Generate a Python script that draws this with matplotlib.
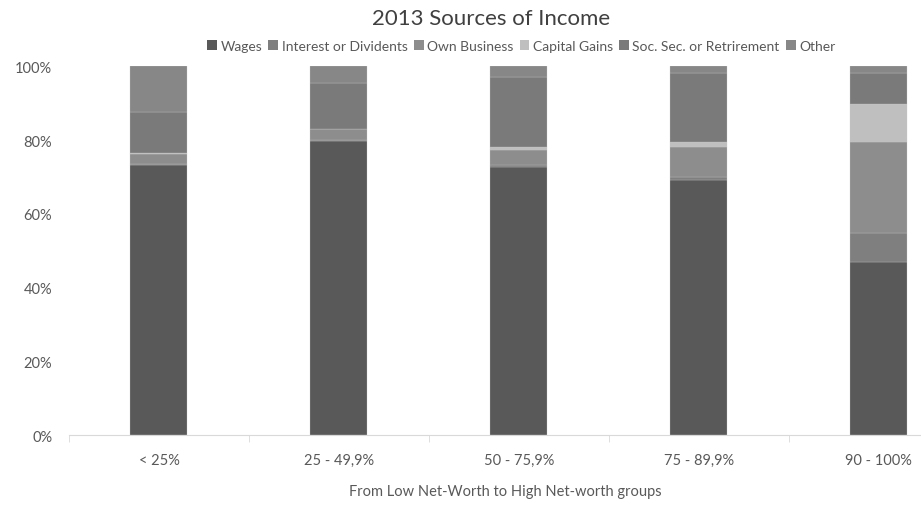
import numpy as np
import matplotlib
matplotlib.use("Agg")
import matplotlib.pyplot as plt
from matplotlib.patches import Patch

plt.rcParams['font.family'] = ['Lato', 'DejaVu Sans']

groups = ['< 25%', '25 - 49,9%', '50 - 75,9%', '75 - 89,9%', '90 - 100%']
series = ['Wages', 'Interest or Dividents', 'Own Business', 'Capital Gains',
          'Soc. Sec. or Retrirement', 'Other']

wages = [73.2, 79.7, 72.8, 69.3, 47.0]
interest = [0.3, 0.3, 0.5, 0.7, 7.9]
business = [2.8, 2.9, 4.0, 8.2, 24.6]
cap_gains = [0.1, 0.0, 0.7, 1.3, 10.2]
soc_sec = [11.3, 12.5, 19.0, 18.6, 8.6]
other = [12.3, 4.6, 3.0, 1.9, 1.7]

colors = ['#595959', '#7f7f7f', '#8d8d8d', '#bfbfbf', '#7a7a7a', '#878787']
txt = '#595959'

fig = plt.figure(figsize=(9.21, 5.06), dpi=100)
ax = fig.add_axes([0.0749, 0.138, 0.977, 0.729])

x = np.arange(len(groups))
bottom = np.zeros(len(groups))
for vals, c in zip([wages, interest, business, cap_gains, soc_sec, other], colors):
    ax.bar(x, vals, width=0.317, bottom=bottom, color=c, edgecolor='#c8c8c8', linewidth=0.2)
    bottom += np.array(vals)

ax.set_xlim(-0.5, 4.5)
ax.set_ylim(0, 100)
ax.set_yticks([0, 20, 40, 60, 80, 100])
ax.set_yticklabels(['0%', '20%', '40%', '60%', '80%', '100%'])
ax.set_xticks(x)
ax.set_xticklabels(groups)
ax.set_xticks(np.arange(-0.5, 4.6, 1), minor=True)
ax.tick_params(axis='x', which='major', length=0, pad=13, labelsize=10.5, colors=txt)
ax.tick_params(axis='x', which='minor', length=5, color='#d9d9d9')
ax.tick_params(axis='y', length=0, pad=12, labelsize=10.5, colors=txt)
for s in ['top', 'right', 'left']:
    ax.spines[s].set_visible(False)
ax.spines['bottom'].set_color('#d9d9d9')

fig.text(0.533, 0.962, '2013 Sources of Income', ha='center', va='center',
         fontsize=16, color='#404040')
fig.text(0.549, 0.028, 'From Low Net-Worth to High Net-worth groups', ha='center',
         va='center', fontsize=10.5, color=txt)

handles = [Patch(facecolor=c, label=s) for c, s in zip(colors, series)]
fig.legend(handles=handles, loc='center', bbox_to_anchor=(0.566, 0.907), ncol=6,
           frameon=False, fontsize=10, handlelength=0.7, handleheight=0.7,
           handletextpad=0.25, columnspacing=0.45, labelcolor=txt)

fig.savefig('out.png', dpi=100)
